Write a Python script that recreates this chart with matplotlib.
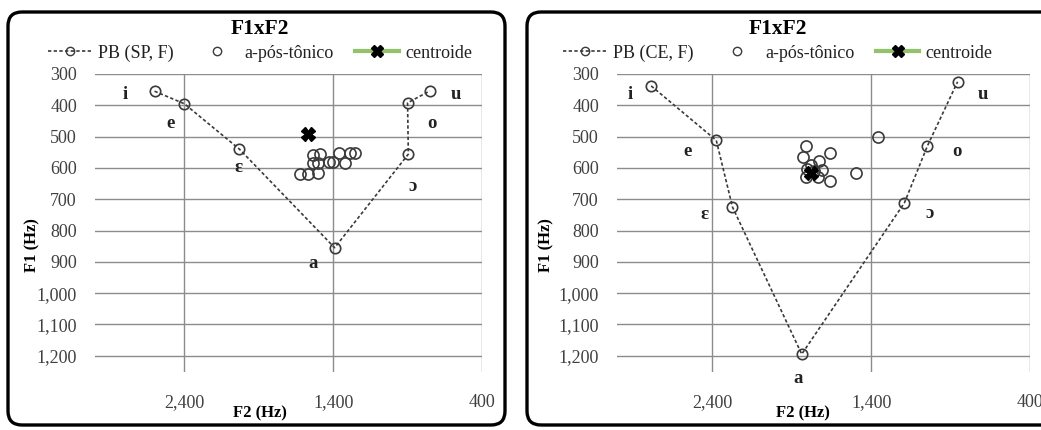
import matplotlib
matplotlib.use("Agg")
import matplotlib.pyplot as plt
from matplotlib.lines import Line2D
from matplotlib.patches import FancyBboxPatch
from matplotlib.transforms import IdentityTransform
from matplotlib.ticker import FuncFormatter

plt.rcParams['font.family'] = ['Liberation Serif', 'DejaVu Serif']

vowels = ['i', 'e', 'ɛ', 'a', 'ɔ', 'o', 'u']

# PB (SP, F): oral vowels, F2 / F1 in Hz
sp_f2 = [2600, 2400, 2030, 1390, 895, 900, 750]
sp_f1 = [355, 395, 540, 855, 556, 392, 354]
sp_post_f2 = [1537, 1488, 1533, 1500, 1623, 1567, 1499, 1425, 1400, 1364, 1319, 1285, 1251]
sp_post_f1 = [559, 556, 585, 584, 619, 619, 615, 580, 580, 551, 585, 551, 551]
sp_centroid = (1570, 492)
sp_label_f2 = [2800, 2495, 2035, 1535, 866, 738, 576]
sp_label_f1 = [367, 457, 600, 904, 658, 457, 367]

# PB (CE, F)
ce_f2 = [2785, 2375, 2273, 1837, 1191, 1046, 856]
ce_f1 = [338, 512, 725, 1195, 712, 530, 325]
ce_post_f2 = [1813, 1830, 1661, 1729, 1803, 1708, 1813, 1734, 1661, 1493, 1354, 1780, 1760]
ce_post_f1 = [530, 564, 551, 577, 604, 607, 630, 630, 641, 617, 502, 590, 610]
ce_centroid = (1780, 616)
ce_label_f2 = [2920, 2558, 2451, 1862, 1033, 862, 697]
ce_label_f1 = [367, 546, 750, 1274, 747, 546, 367]

W, H = 1041, 430
fig = plt.figure(figsize=(W / 100, H / 100), dpi=100)
fig.patch.set_facecolor('white')

grid_c = '#8c8c8c'
mark_c = '#3a3a3a'
tick_c = '#404040'
dash = (0, (2, 1.4))


def px(x, y):
    # pixel position (from top-left) to figure fraction
    return x / W, 1 - y / H


def panel(left, right, f2, f1, post_f2, post_f1, cent, lab_f2, lab_f1, name,
          frame, title_x, ylab_x, xlab_x):
    # rounded frame around each chart
    x0, x1 = frame
    box = FancyBboxPatch((x0, H - 425), x1 - x0, 413,
                         boxstyle='round,pad=0,rounding_size=14',
                         transform=IdentityTransform(), fill=False,
                         ec='black', lw=2.4, zorder=0)
    fig.patches.append(box)

    ax = fig.add_axes([left / W, 1 - 372 / H, (right - left) / W, (372 - 74) / H])
    ax.set_xlim(3000, 400)
    ax.set_ylim(1252, 300)
    ax.set_xticks([2400, 1400, 400])
    ax.set_yticks(range(300, 1300, 100))
    fmt = FuncFormatter(lambda v, p: f'{int(v):,}')
    ax.xaxis.set_major_formatter(fmt)
    ax.yaxis.set_major_formatter(fmt)
    ax.grid(True, color=grid_c, lw=1)
    ax.set_axisbelow(True)
    for s in ax.spines.values():
        s.set_visible(False)
    ax.tick_params(length=0, labelsize=13, colors=tick_c)
    ax.tick_params(axis='y', pad=13)
    ax.tick_params(axis='x', pad=16)

    ax.plot(f2, f1, ls=dash, color=mark_c, lw=1.2, marker='o', ms=7.5,
            mfc='none', mec=mark_c, mew=1.2, zorder=3)
    ax.plot(post_f2, post_f1, ls='none', marker='o', ms=8, mfc='none',
            mec=mark_c, mew=1.2, zorder=3)
    ax.plot([cent[0]], [cent[1]], ls='none', marker='X', ms=10,
            color='black', zorder=4)
    for v, x, y in zip(vowels, lab_f2, lab_f1):
        ax.text(x, y, v, ha='center', va='center', fontsize=13.5,
                fontweight='bold', color='#222222')

    handles = [
        Line2D([], [], ls=dash, color=mark_c, lw=1.2, marker='o', ms=6,
               mfc='none', mec=mark_c),
        Line2D([], [], ls='none', marker='o', ms=6, mfc='none', mec=mark_c),
        Line2D([], [], ls='-', color='#92c26a', lw=3, marker='X', ms=9,
               mfc='black', mec='black'),
    ]
    fig.legend(handles, [name, 'a-pós-tônico', 'centroide'], loc='center',
               bbox_to_anchor=px(title_x, 53), ncol=3, frameon=False,
               fontsize=13, handlelength=2.4, columnspacing=1.2,
               handletextpad=0.35, labelcolor='#222222')

    fig.text(*px(title_x, 29), 'F1xF2', ha='center', va='center',
             fontsize=15.5, fontweight='bold')
    fig.text(*px(xlab_x, 413), 'F2 (Hz)', ha='center', va='center',
             fontsize=12, fontweight='bold')
    fig.text(*px(ylab_x, 245), 'F1 (Hz)', ha='center', va='center',
             rotation=90, fontsize=12, fontweight='bold')
    return ax


panel(95, 482, sp_f2, sp_f1, sp_post_f2, sp_post_f1, sp_centroid,
      sp_label_f2, sp_label_f1, 'PB (SP, F)', (8, 505), 260, 32, 260)
panel(617, 1030, ce_f2, ce_f1, ce_post_f2, ce_post_f1, ce_centroid,
      ce_label_f2, ce_label_f1, 'PB (CE, F)', (527, 1060), 778, 546, 803)

fig.savefig('out.png', dpi=100, facecolor='white')
